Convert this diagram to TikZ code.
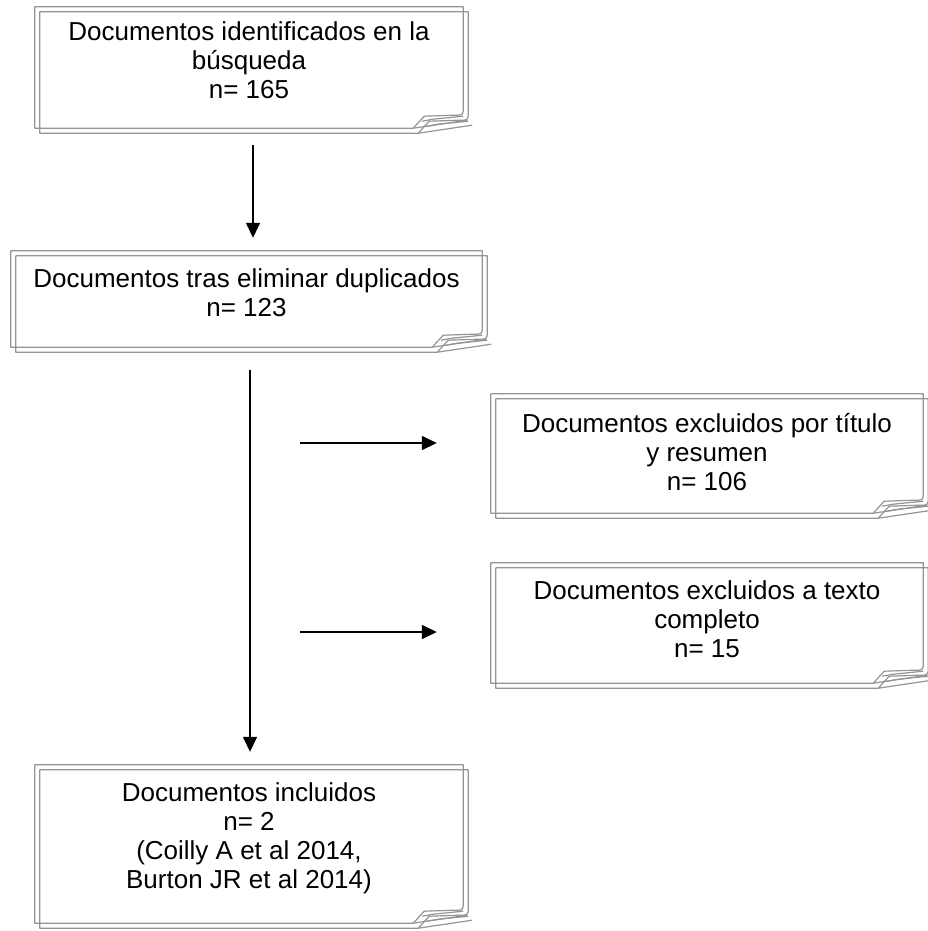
\documentclass[tikz,border=0pt]{standalone}
\usepackage{fontspec}
\setmainfont{Liberation Sans}
\usetikzlibrary{arrows.meta,calc}

% two outlines with a curled corner, the second one 5pt lower right
\newcommand{\foldbox}[1]{%
  \path (#1.north west); \pgfgetlastxy{\xa}{\ya}%
  \path (#1.south east); \pgfgetlastxy{\xb}{\yb}%
  \foreach \d in {0,5}{%
    \begin{scope}[xshift=\d pt,yshift=-\d pt]
      \draw[fold] (\xa,\ya) -- (\xb,\ya) -- (\xb,\yb+17pt)
        .. controls (\xb-1pt,\yb+13pt) .. (\xb-9pt,\yb+13pt)
        -- (\xb-39pt,\yb+12pt) -- (\xb-50pt,\yb) -- (\xa,\yb) -- cycle;
      \draw[fold] (\xb-50pt,\yb) -- (\xb+4pt,\yb+8pt);
      \draw[fold] (\xb-41pt,\yb+7pt) -- (\xb-30pt,\yb+9pt) -- (\xb,\yb+12pt);
    \end{scope}}}

\begin{document}
\begin{tikzpicture}[x=1pt,y=-1pt]
  \tikzstyle{doc}=[align=center,inner sep=0pt,text depth=0pt,font=\fontsize{26}{29}\selectfont]
  \tikzstyle{fold}=[draw=black!42,line width=1.2pt,line join=round]
  \tikzstyle{arr}=[-{Triangle[length=15pt,width=14pt]},line width=1.5pt]

  \useasboundingbox (0,0) rectangle (928,931);

    \node [doc,minimum width=428pt,minimum height=121pt,text height=62pt] (b1) at (249,67.5)
        {Documentos identificados en la\\búsqueda\\n= 165};
    \node [doc,minimum width=471pt,minimum height=96pt,text height=34pt] (b2) at (246.5,299)
        {Documentos tras eliminar duplicados\\n= 123};
    \node [doc,minimum width=432pt,minimum height=119pt,text height=73pt] (b3) at (707,453.5)
        {Documentos excluidos por título\\y resumen\\n= 106};
    \node [doc,minimum width=432pt,minimum height=120pt,text height=68pt] (b4) at (707,623)
        {Documentos excluidos a texto\\completo\\n= 15};
    \node [doc,minimum width=428pt,minimum height=158pt,text height=88pt] (b5) at (249,844)
        {Documentos incluidos\\n= 2\\(Coilly A et al 2014,\\Burton JR et al 2014)};

    \foldbox{b1} \foldbox{b2} \foldbox{b3} \foldbox{b4} \foldbox{b5}

    \coordinate (v1) at (253,0);
    \coordinate (v2) at (250,0);
    \coordinate (h1) at (300,443);
    \coordinate (h2) at (300,632);

    \draw[arr] ($(b1.south -| v1)+(0,17)$) -- ($(b2.north -| v1)+(0,-13)$);
    \draw[arr] ($(b2.south -| v2)+(0,23)$) -- ($(b5.north -| v2)+(0,-13)$);
    \draw[arr] (h1) -- ($(h1 -| b3.west)+(-54,0)$);
    \draw[arr] (h2) -- ($(h2 -| b4.west)+(-54,0)$);
\end{tikzpicture}
\end{document}
